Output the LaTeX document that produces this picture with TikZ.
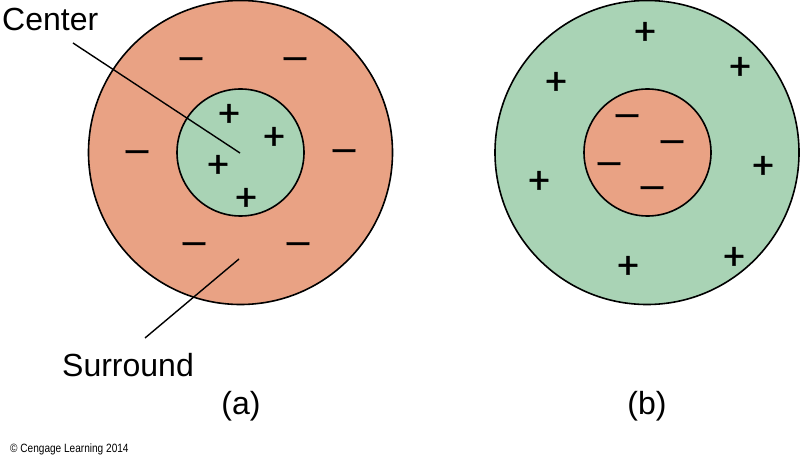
\documentclass[tikz,border=0pt]{standalone}
\usepackage{fontspec}
\setmainfont{Liberation Sans}
\newfontfamily\condfont[FakeStretch=0.84]{Liberation Sans}
\newfontfamily\signfont[FakeBold=1.2]{Liberation Sans}
\definecolor{salmon}{HTML}{E9A284}
\definecolor{mint}{HTML}{A9D3B5}
\begin{document}
\begin{tikzpicture}[x=1pt,y=-1pt,
  ring/.style={draw=black,line width=1.6pt},
  lead/.style={draw=black,line width=1.4pt},
  lbl/.style={inner sep=0pt,font=\fontsize{32}{36}\selectfont},
  plussign/.style={inner sep=0pt,font=\signfont\fontsize{38}{40}\selectfont},
  minussign/.style={inner sep=0pt,font=\signfont\fontsize{40}{40}\selectfont}]
\useasboundingbox (0,0) rectangle (800,457);
% (a)
\fill[salmon] (240.5,152.5) circle (152);
\draw[ring] (240.5,152.5) circle (152);
\fill[mint] (240.5,152.5) circle (63.5);
\draw[ring] (240.5,152.5) circle (63.5);
% (b)
\fill[mint] (647,152.5) circle (152);
\draw[ring] (647,152.5) circle (152);
\fill[salmon] (647.5,152.5) circle (63.5);
\draw[ring] (647.5,152.5) circle (63.5);
% signs (a)
\foreach \p/\q [count=\i] in {191/63,295/63,137/156,344/155,194/248,298/248}
  \node[minussign] (am\i) at (\p,\q) {–};
\foreach \p/\q [count=\i] in {229/115,274/138,218/166,246/199}
  \node[plussign] (ap\i) at (\p,\q) {+};
% signs (b)
\foreach \p/\q [count=\i] in {645/33,556/83,740/68,539/182,763/167,628/267,734/258}
  \node[plussign] (bp\i) at (\p,\q) {+};
\foreach \p/\q [count=\i] in {627/120,672/146,609/168,652/192}
  \node[minussign] (bm\i) at (\p,\q) {–};
% labels
\node[lbl,anchor=base west] (center) at (2,31) {Center};
\node[lbl,anchor=base west] (surround) at (62,376) {Surround};
\node[lbl,anchor=base] (la) at (241,414) {(a)};
\node[lbl,anchor=base] (lb) at (647,414) {(b)};
\node[inner sep=0pt,anchor=base west,font=\condfont\fontsize{12}{14}\selectfont] (copy) at (10,452) {© Cengage Learning 2014};
% leaders
\coordinate (cEnd) at (240,153);
\coordinate (cStart) at (73,43);
\coordinate (sEnd) at (239,259);
\coordinate (sStart) at (145,338);
\draw[lead] (cStart) -- (cEnd);
\draw[lead] (sStart) -- (sEnd);
\end{tikzpicture}
\end{document}
